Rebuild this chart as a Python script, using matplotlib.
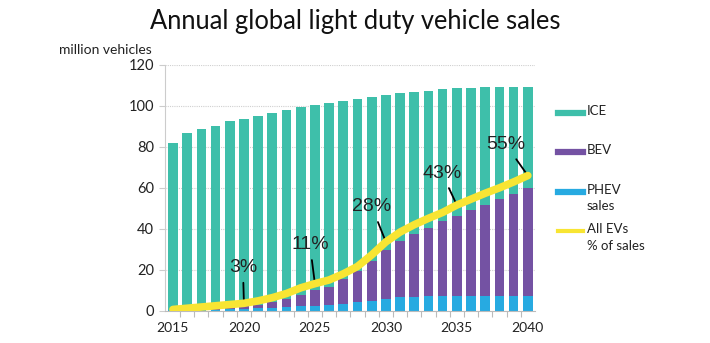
import matplotlib
matplotlib.use('Agg')
import matplotlib.pyplot as plt
from matplotlib.lines import Line2D
import numpy as np

# Annual light duty vehicle sales, million vehicles
years = list(range(2015, 2041))
ice = [81.6, 86.0, 87.7, 88.8, 90.9, 91.6, 92.1, 92.5, 92.4, 91.8, 90.6, 89.9, 87.3,
       84.1, 80.4, 75.7, 71.9, 69.2, 67.0, 64.5, 62.5, 59.9, 57.4, 55.0, 52.4, 49.3]
bev = [0.2, 0.3, 0.5, 0.7, 0.9, 1.3, 1.9, 2.6, 3.9, 5.6, 7.6, 8.9, 12.0,
       15.5, 19.2, 23.7, 27.7, 30.8, 33.5, 36.5, 38.9, 41.8, 44.6, 47.2, 49.8, 52.9]
phev = [0.2, 0.3, 0.4, 0.5, 0.7, 0.9, 1.1, 1.4, 1.7, 2.1, 2.4, 2.8, 3.3,
        4.0, 4.9, 5.9, 6.5, 6.8, 7.0, 7.1, 7.2, 7.2, 7.2, 7.2, 7.2, 7.2]
# EV share of sales, percent
ev_share = [0.5, 1.0, 1.5, 2.0, 2.5, 3.0, 4.0, 5.3, 7.0, 9.3, 11.0, 12.5, 15.0,
            18.0, 22.7, 28.0, 32.0, 35.0, 37.6, 40.0, 43.0, 45.4, 47.8, 50.0, 52.4, 55.0]
labelled_years = [2020, 2025, 2030, 2035, 2040]
label_offsets = [(-1, 36), (-5, 39), (-14, 35), (-15, 32), (-22, 31)]

C_ICE = '#3ebfaa'
C_BEV = '#7452a3'
C_PHEV = '#27aae1'
C_EV = '#f8e533'
FONT = 'Lato'

fig = plt.figure(figsize=(7.10, 3.43), dpi=100)
ax = fig.add_axes([0.2324, 0.0942, 0.521, 0.7163])

x = np.arange(len(years))
phev_a = np.array(phev)
bev_a = np.array(bev)
ax.bar(x, phev, width=0.68, color=C_PHEV, zorder=2)
ax.bar(x, bev, width=0.68, bottom=phev_a, color=C_BEV, zorder=2)
ax.bar(x, ice, width=0.68, bottom=phev_a + bev_a, color=C_ICE, zorder=2)

ax.set_xlim(-0.56, len(years) - 0.5)
ax.set_ylim(0, 120)
ax.set_yticks(range(0, 121, 20))
ax.set_xticks([years.index(y) for y in range(2015, 2041, 5)])
ax.set_xticklabels([str(y) for y in range(2015, 2041, 5)])
ax.set_xticks(x[:-1] + 0.5, minor=True)
ax.tick_params(axis='x', which='major', length=0, pad=8, labelsize=10, labelcolor='#222222')
ax.tick_params(axis='x', which='minor', length=4, color='#bbbbbb', width=0.8)
ax.tick_params(axis='y', length=4, color='#cccccc', width=0.8, pad=4, labelsize=10.5,
               labelcolor='#222222')
for lab in ax.get_xticklabels() + ax.get_yticklabels():
    lab.set_fontfamily(FONT)

ax.grid(axis='y', linestyle=(0, (1, 1)), color='#d0d0d0', linewidth=0.8, zorder=0)
for s in ['top', 'right']:
    ax.spines[s].set_visible(False)
ax.spines['left'].set_color('#cccccc')
ax.spines['bottom'].set_color('#bbbbbb')
ax.spines['left'].set_linewidth(0.8)
ax.spines['bottom'].set_linewidth(0.8)

# EV share line on a hidden 0-100% scale
ax2 = ax.twinx()
ax2.set_ylim(0, 100)
ax2.axis('off')
ax2.plot(x, ev_share, color=C_EV, linewidth=5.5, solid_capstyle='round',
         solid_joinstyle='round', zorder=5)
for yr, off in zip(labelled_years, label_offsets):
    i = years.index(yr)
    ax2.annotate(f'{ev_share[i]:.0f}%', xy=(i, ev_share[i]), xytext=off,
                 textcoords='offset pixels', ha='center', va='center',
                 fontsize=14, family='Liberation Sans', color='#222222',
                 arrowprops=dict(arrowstyle='-', color='black', lw=1.3,
                                 shrinkA=3, shrinkB=0), zorder=4)

fig.text(0.5, 0.937, 'Annual global light duty vehicle sales', ha='center', va='center',
         fontsize=18.4, family=FONT, color='#111111')
fig.text(0.214, 0.853, 'million vehicles', ha='right', va='center',
         fontsize=10, family=FONT, color='#222222')

# Legend
leg = [(C_ICE, 113, 'ICE', 4.5), (C_BEV, 152, 'BEV', 4.5),
       (C_PHEV, 192, 'PHEV\nsales', 4.5), (C_EV, 231, 'All EVs\n% of sales', 3)]
for color, py, text, lw in leg:
    fy = 1 - py / 343
    fig.add_artist(Line2D([558 / 710, 583 / 710], [fy, fy], color=color, linewidth=lw))
    fig.text(587 / 710, fy + 8 / 343, text, ha='left', va='top', fontsize=9.5,
             family=FONT, color='#222222', linespacing=1.45)

fig.savefig('out.png', dpi=100)
